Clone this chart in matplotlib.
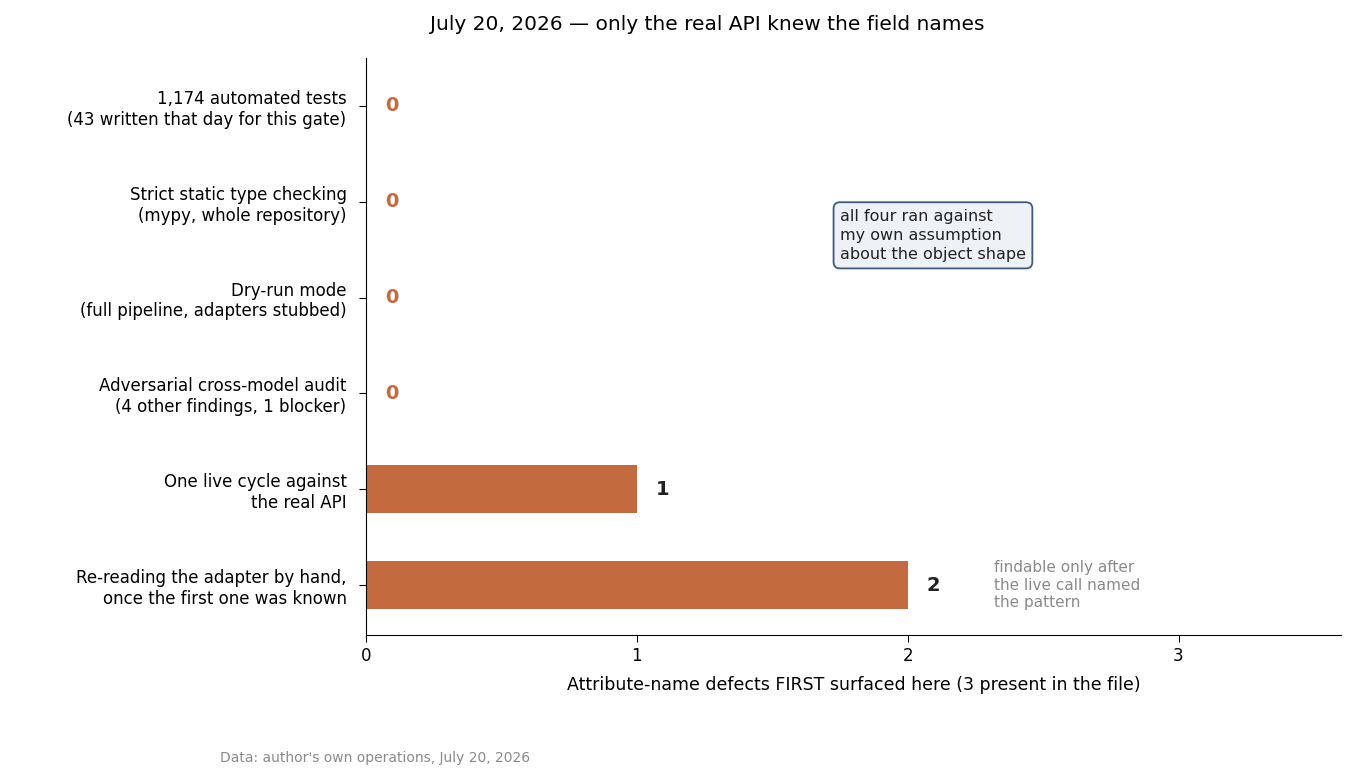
import matplotlib
matplotlib.use("Agg")
import matplotlib.pyplot as plt
plt.rcParams['font.family'] = ['DejaVu Sans']

categories = ["1,174 automated tests\n(43 written that day for this gate)",
              "Strict static type checking\n(mypy, whole repository)",
              "Dry-run mode\n(full pipeline, adapters stubbed)",
              "Adversarial cross-model audit\n(4 other findings, 1 blocker)",
              "One live cycle against\nthe real API",
              "Re-reading the adapter by hand,\nonce the first one was known"]
values = [0, 0, 0, 0, 1, 2]
color = "#C36A3E"

fig = plt.figure(figsize=(13.57, 7.82), dpi=100)
ax = fig.add_axes([366/1357, 1-635/782, 975/1357, 577/782])
y = list(range(len(categories)))
ax.barh(y, values, height=0.5, color=color)
for yi, v in zip(y, values):
    if v == 0:
        ax.text(0.07, yi, "0", color=color, fontsize=14, fontweight="bold", va="center", ha="left")
    else:
        ax.text(v + 0.07, yi, str(v), color="#222222", fontsize=14, fontweight="bold", va="center", ha="left")
ax.set_yticks(y)
ax.set_yticklabels(categories, fontsize=12)
ax.tick_params(axis="y", length=5, pad=9)
ax.set_ylim(5.52, -0.5)
ax.set_xlim(0, 3.6)
ax.set_xticks([0, 1, 2, 3])
ax.tick_params(axis="x", labelsize=12, length=5)
ax.spines["top"].set_visible(False)
ax.spines["right"].set_visible(False)
ax.set_xlabel("Attribute-name defects FIRST surfaced here (3 present in the file)", fontsize=12.5, labelpad=8)
fig.text(707/1357, 1-24/782, "July 20, 2026 — only the real API knew the field names", fontsize=14.5,
         ha="center", va="center")

ax.text(1.75, 1.35, "all four ran against\nmy own assumption\nabout the object shape", fontsize=11.5,
        color="#222222", va="center", ha="left", linespacing=1.35,
        bbox=dict(boxstyle="round,pad=0.4", fc="#EEF1F5", ec="#3D5A80", lw=1.3))
ax.text(2.32, 5.0, "findable only after\nthe live call named\nthe pattern", fontsize=11,
        color="#8A8A8A", va="center", ha="left", linespacing=1.2)
fig.text(220/1357, 1-758/782, "Data: author's own operations, July 20, 2026", fontsize=10,
         color="#8A8A8A", va="center", ha="left")
fig.savefig("out.png", dpi=100)
